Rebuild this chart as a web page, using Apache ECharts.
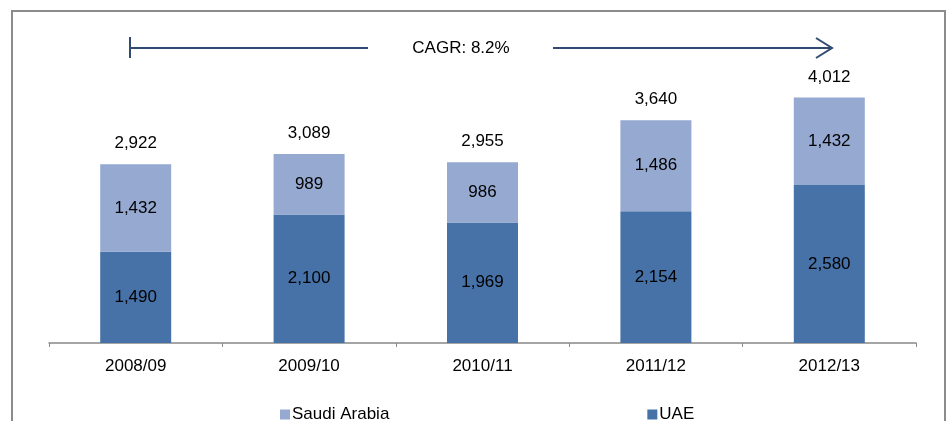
<!DOCTYPE html>
<html>
<head>
<meta charset="utf-8">
<script src="https://cdn.jsdelivr.net/npm/echarts@6/dist/echarts.min.js"></script>
<style>
  html, body { margin: 0; padding: 0; background: #fff; }
  #chart { width: 947px; height: 421px; }
</style>
</head>
<body>
<div id="chart"></div>
<script>
var years = ['2008/09', '2009/10', '2010/11', '2011/12', '2012/13'];
var uae = [1490, 2100, 1969, 2154, 2580];
var saudi = [1432, 989, 986, 1486, 1432];
var totals = [2922, 3089, 2955, 3640, 4012];
var cagrText = 'CAGR: 8.2%';

var font = 'Liberation Sans, Arial, sans-serif';
var fmt = function (v) { return Number(v).toLocaleString('en-US'); };

var myChart = echarts.init(document.getElementById('chart'));
var arrowColor = '#2f4b72';

var option = {
    animation: false,
    textStyle: { fontFamily: font },
    grid: { left: 49, right: 31, top: 37, bottom: 78 },
    legend: {
        data: ['Saudi Arabia', 'UAE'],
        left: 275,
        top: 401,
        itemWidth: 10,
        itemHeight: 10,
        itemGap: 258,
        icon: 'rect',
        textStyle: { fontSize: 17, color: '#000', fontFamily: font, padding: [0, 0, 0, -3] }
    },
    xAxis: {
        type: 'category',
        data: years,
        axisLine: { lineStyle: { color: '#888', width: 1.5 } },
        axisTick: { show: true, length: 4, lineStyle: { color: '#888' } },
        axisLabel: { color: '#000', fontSize: 17, margin: 15, fontFamily: font }
    },
    yAxis: {
        type: 'value',
        min: 0,
        max: 5000,
        show: false,
        splitLine: { show: false }
    },
    series: [
        {
            name: 'UAE',
            type: 'bar',
            stack: 'a',
            barWidth: 71,
            data: uae,
            itemStyle: { color: '#4672a8' },
            label: { show: true, position: 'inside', color: '#000', fontSize: 17, fontFamily: font,
                     formatter: function (p) { return fmt(p.value); } }
        },
        {
            name: 'Saudi Arabia',
            type: 'bar',
            stack: 'a',
            barWidth: 71,
            data: saudi,
            itemStyle: { color: '#95a9d1' },
            label: { show: true, position: 'inside', color: '#000', fontSize: 17, fontFamily: font,
                     formatter: function (p) { return fmt(p.value); } }
        },
        {
            name: 'Total',
            type: 'bar',
            barWidth: 71,
            barGap: '-100%',
            z: 1,
            data: totals,
            itemStyle: { color: 'rgba(0,0,0,0)' },
            label: { show: true, position: 'top', distance: 12, color: '#000', fontSize: 17, fontFamily: font,
                     formatter: function (p) { return fmt(p.value); } },
            emphasis: { disabled: true },
            silent: true
        }
    ],
    graphic: [
        {
            type: 'rect',
            shape: { x: 12, y: 11, width: 933, height: 430 },
            style: { fill: 'none', stroke: '#8c8c8c', lineWidth: 2 },
            z: 0
        },
        {
            type: 'line',
            shape: { x1: 130, y1: 48, x2: 368, y2: 48 },
            style: { stroke: arrowColor, lineWidth: 2 }
        },
        {
            type: 'line',
            shape: { x1: 130, y1: 37, x2: 130, y2: 58 },
            style: { stroke: arrowColor, lineWidth: 2 }
        },
        {
            type: 'line',
            shape: { x1: 553, y1: 48, x2: 832, y2: 48 },
            style: { stroke: arrowColor, lineWidth: 2 }
        },
        {
            type: 'polyline',
            shape: { points: [[816, 38], [832, 48], [816, 58]] },
            style: { stroke: arrowColor, lineWidth: 2, fill: 'none' }
        },
        {
            type: 'text',
            x: 461,
            y: 48,
            style: { text: cagrText, fill: '#000', font: '17px ' + font, textAlign: 'center', textVerticalAlign: 'middle' }
        }
    ]
};
myChart.setOption(option);
</script>
</body>
</html>
